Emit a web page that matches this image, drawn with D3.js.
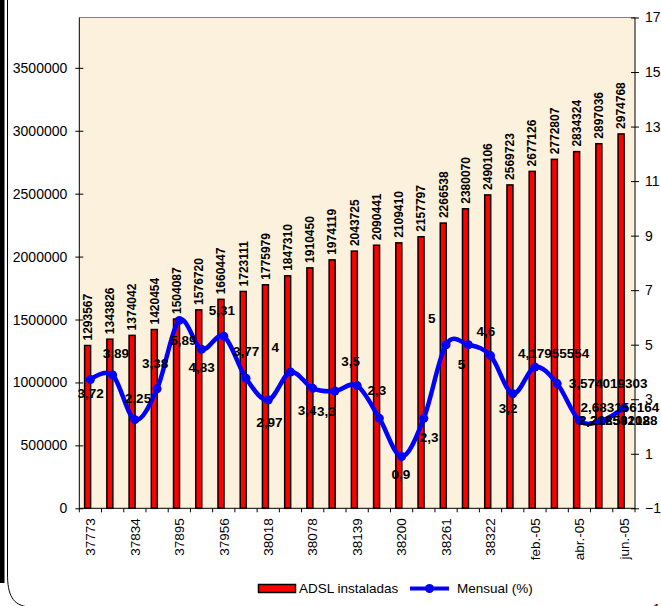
<!DOCTYPE html>
<html>
<head>
<meta charset="utf-8">
<script src="https://cdn.jsdelivr.net/npm/d3@7"></script>
<style>
  body { margin: 0; background: #fff; }
  svg { display: block; font-family: Arial, "Liberation Sans", sans-serif; }
</style>
</head>
<body>
<svg width="661" height="606"></svg>
<script>
// months (Excel serials, later ones as text)
const months = [
  "37773", "37803", "37834", "37865", "37895", "37926", "37956", "37987",
  "38018", "38047", "38078", "38108", "38139", "38169", "38200", "38231",
  "38261", "38292", "38322", "38353", "feb.-05", "mar.-05", "abr.-05",
  "may.-05", "jun.-05"
];
// only every other month gets a label
const tickMonths = months.filter((d, i) => i % 2 === 0);

const adsl = [
  1293567, 1343826, 1374042, 1420454, 1504087, 1576720, 1660447, 1723111,
  1775979, 1847310, 1910450, 1974119, 2043725, 2090441, 2109410, 2157797,
  2266538, 2380070, 2490106, 2569723, 2677126, 2772807, 2834324, 2897036,
  2974768
];

const mensual = [
  3.72, 3.89, 2.25, 3.38, 5.89, 4.83, 5.31, 3.77, 2.97, 4, 3.4, 3.3, 3.5,
  2.3, 0.9, 2.3, 5, 5, 4.6, 3.2, 4.17955554, 3.574019303, 2.218582128,
  2.21259108, 2.683156164
];

const leftTicks = [0, 500000, 1000000, 1500000, 2000000, 2500000, 3000000, 3500000];
const rightTicks = [-1, 1, 3, 5, 7, 9, 11, 13, 15, 17];

const seriesNames = ["ADSL instaladas", "Mensual (%)"];

const svg = d3.select("svg");

const pLeft = 79.3, pRight = 635, pTop = 17.5, pBottom = 508.3;

const x = d3.scaleBand().domain(months).range([pLeft, pRight]);
const cx = (d) => x(d) + x.bandwidth() / 2;

const yL = d3.scaleLinear().domain([0, 3900000]).range([pBottom, pTop]);
const yR = d3.scaleLinear().domain([-1, 17]).range([pBottom, pTop]);

// outer frame bits
svg.append("rect")
  .attr("x", 0).attr("y", 0)
  .attr("width", 4.5).attr("height", 583)
  .attr("fill", "#000");
svg.append("path")
  .attr("d", "M7.5,0 V574 C7.5,594 12,606 30,607 H700")
  .attr("fill", "none")
  .attr("stroke", "#000")
  .attr("stroke-width", 1);

// plot area
svg.append("rect")
  .attr("x", pLeft).attr("y", pTop)
  .attr("width", pRight - pLeft).attr("height", pBottom - pTop)
  .attr("fill", "#fcf1dc");
svg.append("line")
  .attr("x1", pLeft).attr("x2", pRight)
  .attr("y1", pTop).attr("y2", pTop)
  .attr("stroke", "#808080");

// bars
const barW = 6;
svg.append("g")
  .selectAll("rect")
  .data(adsl)
  .enter()
  .append("rect")
  .attr("x", (d, i) => cx(months[i]) - 2.8 - barW / 2)
  .attr("y", (d) => yL(d))
  .attr("width", barW)
  .attr("height", (d) => pBottom - yL(d))
  .attr("fill", "#ff0000")
  .attr("stroke", "#000")
  .attr("stroke-width", 1.5);

// bar labels
svg.append("g")
  .selectAll("text")
  .data(adsl)
  .enter()
  .append("text")
  .attr("transform", (d, i) =>
    "translate(" + (cx(months[i]) - 2.8 + 4.3) + "," + (yL(d) - 5) + ") rotate(-90)")
  .attr("font-size", 12)
  .attr("font-weight", "bold")
  .attr("text-anchor", "start")
  .text((d) => d);

// left axis
const axisL = svg.append("g")
  .attr("transform", "translate(" + pLeft + ",0)")
  .call(d3.axisLeft(yL).tickValues(leftTicks).tickSize(4).tickPadding(8).tickFormat(d3.format("d")));
axisL.selectAll(".tick line").attr("x1", 4);
axisL.select(".domain").attr("d", "M0," + pTop + "V" + pBottom);

// right axis
const axisR = svg.append("g")
  .attr("transform", "translate(" + pRight + ",0)")
  .call(d3.axisRight(yR).tickValues(rightTicks).tickSize(4).tickPadding(6));
axisR.selectAll(".tick line").attr("x1", -4);
axisR.select(".domain").attr("d", "M0," + pTop + "V" + pBottom);

[axisL, axisR].forEach((a) => {
  a.attr("font-family", null);
  a.selectAll("text").attr("font-size", 14).attr("fill", "#000");
});

// bottom axis
const xAxis = svg.append("g");
xAxis.append("line")
  .attr("x1", pLeft).attr("x2", pRight)
  .attr("y1", pBottom).attr("y2", pBottom)
  .attr("stroke", "#000");
xAxis.selectAll(".xt")
  .data(d3.range(months.length + 1))
  .enter()
  .append("line")
  .attr("class", "xt")
  .attr("x1", (i) => pLeft + i * x.step())
  .attr("x2", (i) => pLeft + i * x.step())
  .attr("y1", pBottom).attr("y2", pBottom + 4)
  .attr("stroke", "#000");
xAxis.selectAll("text")
  .data(tickMonths)
  .enter()
  .append("text")
  .attr("transform", (d) => "translate(" + (cx(d) + 4.8) + "," + (pBottom + 10) + ") rotate(-90)")
  .attr("text-anchor", "end")
  .attr("font-size", 13.5)
  .text((d) => d);

// line series
const line = d3.line()
  .x((d, i) => cx(months[i]))
  .y((d) => yR(d))
  .curve(d3.curveCardinal.tension(0));

svg.append("path")
  .datum(mensual)
  .attr("d", line)
  .attr("fill", "none")
  .attr("stroke", "#0000ff")
  .attr("stroke-width", 4.5)
  .attr("stroke-linejoin", "round");

svg.append("g")
  .selectAll("circle")
  .data(mensual)
  .enter()
  .append("circle")
  .attr("cx", (d, i) => cx(months[i]))
  .attr("cy", (d) => yR(d))
  .attr("r", 4.5)
  .attr("fill", "#0000ff");

// label offsets (left edge / vertical centre relative to the point)
const lblOff = [
  [-13, 14], [-10, -22], [-10, -21], [-15, -26], [-9, 20], [-13, 18],
  [-15, -26], [-13, -27], [-12, 22], [-19, -25], [-15, 22], [-18, 20],
  [-16, -24], [-12, -28], [-10, 18], [-4, 19], [-18, -26], [-10.5, 20],
  [-14, -24], [-14, 14.5], [-17, -14], [11.5, 0], [-0.7, 0], [-23, 0],
  [-43.5, -1]
];

svg.append("g")
  .selectAll("text")
  .data(mensual)
  .enter()
  .append("text")
  .attr("x", (d, i) => cx(months[i]) + lblOff[i][0])
  .attr("y", (d, i) => yR(d) + lblOff[i][1])
  .attr("dy", "0.35em")
  .attr("font-size", 13.5)
  .attr("font-weight", "bold")
  .text((d) => String(d).replace(".", ","));

// legend
const legend = svg.append("g");
legend.append("rect")
  .attr("x", 258.5).attr("y", 584.5)
  .attr("width", 37).attr("height", 8)
  .attr("fill", "#ff0000")
  .attr("stroke", "#000")
  .attr("stroke-width", 1.5);
legend.append("text")
  .attr("x", 299).attr("y", 588.5)
  .attr("dy", "0.35em")
  .attr("font-size", 13.5)
  .text(seriesNames[0]);
legend.append("line")
  .attr("x1", 410).attr("x2", 449)
  .attr("y1", 588.5).attr("y2", 588.5)
  .attr("stroke", "#0000ff")
  .attr("stroke-width", 4);
legend.append("circle")
  .attr("cx", 429.5).attr("cy", 588.5)
  .attr("r", 4.5)
  .attr("fill", "#0000ff");
legend.append("text")
  .attr("x", 457).attr("y", 588.5)
  .attr("dy", "0.35em")
  .attr("font-size", 13.5)
  .text(seriesNames[1]);

// clipped character at the bottom-right corner
svg.append("text")
  .attr("x", 653).attr("y", 613)
  .attr("font-size", 13)
  .text("1");
</script>
</body>
</html>
